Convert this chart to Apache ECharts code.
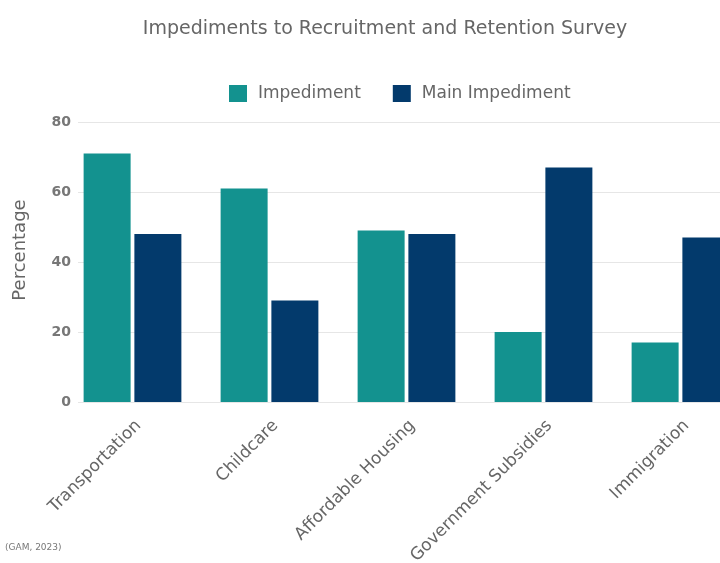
<!DOCTYPE html>
<html>
<head>
<meta charset="utf-8">
<title>Impediments to Recruitment and Retention Survey</title>
<script src="https://cdn.jsdelivr.net/npm/echarts@6/dist/echarts.min.js"></script>
<style>
  html, body { margin: 0; padding: 0; background: #ffffff; overflow: hidden; }
  /* the canvas runs past the right edge of the window, as the chart was laid out wider */
  #chart { width: 770px; height: 563px; }
</style>
</head>
<body>
<div id="chart"></div>
<script>
// Survey responses (percent of respondents)
const categories = ['Transportation', 'Childcare', 'Affordable Housing', 'Government Subsidies', 'Immigration'];
const impediment = [71, 61, 49, 20, 17];
const mainImpediment = [48, 29, 48, 67, 47];
const seriesNames = ['Impediment', 'Main Impediment'];
const yTicks = { min: 0, max: 80, interval: 20 };

const FONT = 'DejaVu Sans';
const TEXT = '#666666';
const TEAL = '#13928f';
const NAVY = '#033a6c';

const chart = echarts.init(document.getElementById('chart'), null, { renderer: 'canvas' });

// Plot area shared by both grids (vertical extent)
const plotTop = 122;
const plotHeight = 280;

chart.setOption({
  backgroundColor: '#ffffff',
  animation: false,
  legend: {
    data: seriesNames,
    left: 229,
    top: 85,
    padding: 0,
    icon: 'rect',
    itemWidth: 18,
    itemHeight: 17,
    itemGap: 32,
    textStyle: { fontFamily: FONT, fontSize: 17, color: TEXT, padding: [0, 0, 0, 6] }
  },
  graphic: [
    {
      type: 'text',
      x: 385, y: 29,
      style: {
        text: 'Impediments to Recruitment and Retention Survey',
        font: '19px "' + FONT + '"',
        fill: TEXT,
        align: 'center',
        verticalAlign: 'middle'
      }
    },
    {
      type: 'text',
      x: 20, y: 250,
      rotation: Math.PI / 2,
      style: {
        text: 'Percentage',
        font: '18px "' + FONT + '"',
        fill: TEXT,
        align: 'center',
        verticalAlign: 'middle'
      }
    },
    {
      type: 'text',
      x: 5, y: 548,
      style: {
        text: '(GAM, 2023)',
        font: '9px "' + FONT + '"',
        fill: '#777777',
        align: 'left',
        verticalAlign: 'middle'
      }
    }
  ],
  grid: [
    // value scale with gridlines
    { left: 78, right: 0, top: plotTop, height: plotHeight, outerBoundsMode: 'none', containLabel: false },
    // category bands for the bars
    { left: 64, right: 21, top: plotTop, height: plotHeight, outerBoundsMode: 'none', containLabel: false }
  ],
  xAxis: [
    { type: 'value', gridIndex: 0, show: false, min: 0, max: 1 },
    {
      type: 'category',
      gridIndex: 1,
      data: categories,
      axisLine: { show: false },
      axisTick: { show: false },
      axisLabel: {
        rotate: 45,
        margin: 15,
        interval: 0,
        verticalAlign: 'top',
        fontFamily: FONT,
        fontSize: 17,
        color: TEXT
      }
    }
  ],
  yAxis: [
    {
      type: 'value',
      gridIndex: 0,
      min: yTicks.min,
      max: yTicks.max,
      interval: yTicks.interval,
      axisLine: { show: false },
      axisTick: { show: false },
      axisLabel: { margin: 7, fontFamily: FONT, fontSize: 14, fontWeight: 'bold', color: '#777777' },
      splitLine: { lineStyle: { color: '#e6e6e6', width: 1 } }
    },
    {
      type: 'value',
      gridIndex: 1,
      min: yTicks.min,
      max: yTicks.max,
      interval: yTicks.interval,
      show: false,
      splitLine: { show: false }
    }
  ],
  series: [
    {
      name: seriesNames[0],
      type: 'bar',
      xAxisIndex: 1,
      yAxisIndex: 1,
      data: impediment,
      barWidth: 47,
      barGap: '8%',
      itemStyle: { color: TEAL }
    },
    {
      name: seriesNames[1],
      type: 'bar',
      xAxisIndex: 1,
      yAxisIndex: 1,
      data: mainImpediment,
      barWidth: 47,
      barGap: '8%',
      itemStyle: { color: NAVY }
    }
  ]
});
</script>
</body>
</html>
